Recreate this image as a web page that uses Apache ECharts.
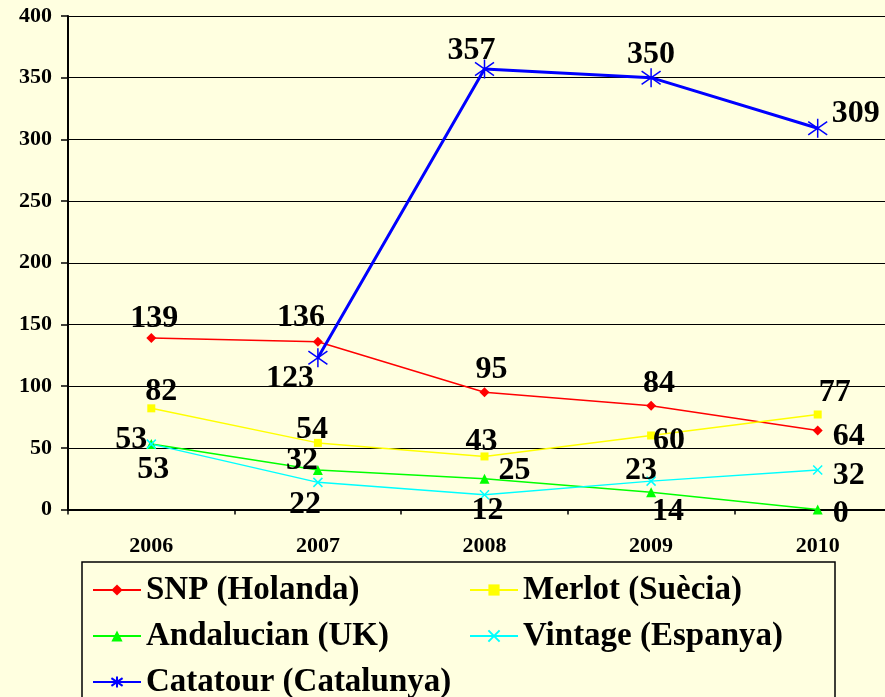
<!DOCTYPE html>
<html>
<head>
<meta charset="utf-8">
<script src="https://cdn.jsdelivr.net/npm/echarts@6/dist/echarts.min.js"></script>
<style>
  html, body { margin: 0; padding: 0; background: #ffffe0; }
  #chart { width: 885px; height: 697px; }
</style>
</head>
<body>
<div id="chart"></div>
<script>
// dades
var years = ['2006', '2007', '2008', '2009', '2010'];
var seriesNames = ['SNP (Holanda)', 'Merlot (Suècia)', 'Andalucian (UK)', 'Vintage (Espanya)', 'Catatour (Catalunya)'];
var snp = [139, 136, 95, 84, 64];
var merlot = [82, 54, 43, 60, 77];
var andalucian = [53, 32, 25, 14, 0];
var vintage = [53, 22, 12, 23, 32];
var catatour = ['-', 123, 357, 350, 309];
var yTicks = [0, 50, 100, 150, 200, 250, 300, 350, 400];

// on va cada etiqueta (desplacament des del punt)
var labelOffsets = [
  [[3, -19], [-17, -24], [7, -23], [8, -22], [31, 6]],
  [[10, -17], [-6, -13], [-3, -15], [18, 5], [17, -22]],
  [[-20, -4], [-16, -9], [30, -8], [17, 20], [23, 4]],
  [[2, 26], [-13, 22], [3, 16], [-10, -10], [31, 6]],
  [[0, 0], [-28, 21], [-13, -18], [0, -23], [38, -15]]
];

var serif = 'Liberation Serif';
var styles = [
  { color: '#ff0000', symbol: 'diamond', size: 10, width: 1.5 },
  { color: '#ffff00', symbol: 'rect', size: 8, width: 1.5 },
  { color: '#00ff00', symbol: 'triangle', size: 10, width: 1.5 },
  { color: '#00ffff', symbol: 'path://M0,0L10,10M10,0L0,10', size: 9, width: 1.5, stroke: true },
  { color: '#0000ff', symbol: 'path://M5,0L5,10M0,1.5L10,8.5M10,1.5L0,8.5', size: 19, width: 3, stroke: true }
];

function buildSeries(idx, values) {
  var st = styles[idx];
  var data = values.map(function (v, i) {
    return {
      value: v,
      label: { offset: labelOffsets[idx][i] }
    };
  });
  return {
    name: seriesNames[idx],
    type: 'line',
    data: data,
    symbol: st.symbol,
    symbolSize: st.size,
    showAllSymbol: true,
    lineStyle: { color: st.color, width: st.width },
    itemStyle: {
      color: st.color,
      borderColor: st.color,
      borderWidth: st.stroke ? 1.5 : 0
    },
    label: {
      show: true,
      position: 'inside',
      color: '#000',
      fontFamily: serif,
      fontWeight: 'bold',
      fontSize: 32
    },
    emphasis: { disabled: true },
    animation: false
  };
}

var myChar = echarts.init(document.getElementById('chart'));
var myOption = {
  backgroundColor: '#ffffe0',
  grid: {
    left: 68,
    top: 16,
    width: 833,
    height: 493.5,
    containLabel: false,
    outerBoundsMode: 'none'   // el grafic surt per la dreta
  },
  xAxis: {
    type: 'category',
    data: years,
    boundaryGap: true,
    axisLine: { lineStyle: { color: '#000', width: 2 } },
    axisTick: { show: true, length: 5, lineStyle: { color: '#000', width: 1.5 } },
    axisLabel: {
      color: '#000',
      fontFamily: serif,
      fontWeight: 'bold',
      fontSize: 22,
      margin: 26
    }
  },
  yAxis: {
    type: 'value',
    min: yTicks[0],
    max: yTicks[yTicks.length - 1],
    interval: 50,
    axisLine: { show: true, lineStyle: { color: '#000', width: 2 } },
    axisTick: { show: true, length: 7, lineStyle: { color: '#000', width: 1.5 } },
    splitLine: { show: true, lineStyle: { color: '#000', width: 1.2 } },
    axisLabel: {
      color: '#000',
      fontFamily: serif,
      fontWeight: 'bold',
      fontSize: 22,
      lineHeight: 22,
      padding: [6, 0, 0, 0],
      margin: 16
    }
  },
  legend: {
    left: 82,
    top: 562,
    width: 760,
    orient: 'horizontal',
    itemWidth: 48,
    itemHeight: 14,
    itemGap: 12,
    padding: [11, 1, 40, 10],
    borderColor: '#000',
    borderWidth: 1.5,
    textStyle: {
      color: '#000',
      fontFamily: serif,
      fontWeight: 'bold',
      fontSize: 33,
      lineHeight: 34,
      width: 311
    },
    data: seriesNames
  },
  series: [
    buildSeries(0, snp),
    buildSeries(1, merlot),
    buildSeries(2, andalucian),
    buildSeries(3, vintage),
    buildSeries(4, catatour)
  ]
};
myChar.setOption(myOption);
</script>
</body>
</html>
